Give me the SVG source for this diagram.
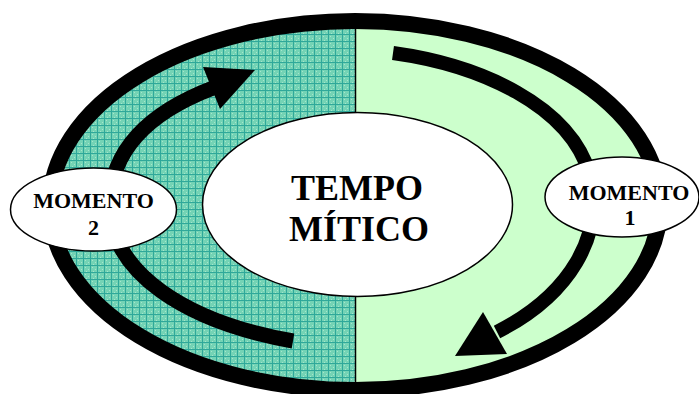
<svg xmlns="http://www.w3.org/2000/svg" width="699" height="394" viewBox="0 0 699 394">
<style>
.lbl{font-family:"Liberation Serif","Times New Roman",serif;font-weight:bold;fill:#000;text-anchor:middle}
.node{fill:#fff;stroke:#000;stroke-width:1.5}
.shaft{fill:none;stroke:#000;stroke-linecap:butt}
</style>
<defs>
<pattern id="grid" width="7" height="7" patternUnits="userSpaceOnUse">
<rect width="7" height="7" fill="#74D3B5"/>
<rect x="1" y="1" width="1" height="1" fill="#A6E6CC"/>
<rect x="4" y="3" width="1" height="1" fill="#A6E6CC"/>
<rect x="2" y="5" width="1" height="1" fill="#A6E6CC"/>
<rect x="6" y="0" width="1" height="7" fill="#2FA89A"/>
<rect x="0" y="6" width="7" height="1" fill="#2FA89A"/>
</pattern>
<clipPath id="leftHalf"><rect x="0" y="0" width="355" height="394"/></clipPath>
</defs>
<g id="background">
<ellipse cx="355" cy="205.5" rx="305" ry="184.5" fill="#CCFFCC"/>
<ellipse cx="355" cy="205.5" rx="305" ry="184.5" fill="url(#grid)" clip-path="url(#leftHalf)"/>
<line x1="355.5" y1="20" x2="355.5" y2="392" stroke="#000" stroke-width="1.5"/>
<ellipse cx="355" cy="205.5" rx="305" ry="184.5" fill="none" stroke="#000" stroke-width="16"/>
</g>
<g id="connectors">
<path class="shaft" stroke-width="15" d="M293,341 C185,322 110,272 110,205 C110,150 150,112 213,88"/>
<polygon points="203,67 255,70 220,109" fill="#000"/>
<path class="shaft" stroke-width="14" d="M393,53 C480,65 570,105 590,175 C605,235 570,295 497,332"/>
<polygon points="483,312 455,356 507,354" fill="#000"/>
</g>
<g id="tempo-mitico">
<ellipse class="node" cx="357.5" cy="204.5" rx="155" ry="92"/>
<text class="lbl" x="357" y="200" font-size="36">TEMPO</text>
<text class="lbl" x="359" y="241" font-size="36">MÍTICO</text>
</g>
<g id="momento-2">
<ellipse class="node" cx="93.5" cy="209.5" rx="83" ry="41.5"/>
<text class="lbl" x="93.5" y="208" font-size="22">MOMENTO</text>
<text class="lbl" x="93.5" y="235" font-size="22">2</text>
</g>
<g id="momento-1">
<ellipse class="node" cx="622" cy="197" rx="77" ry="40"/>
<text class="lbl" x="629" y="200" font-size="22">MOMENTO</text>
<text class="lbl" x="630" y="225" font-size="22">1</text>
</g>
</svg>
